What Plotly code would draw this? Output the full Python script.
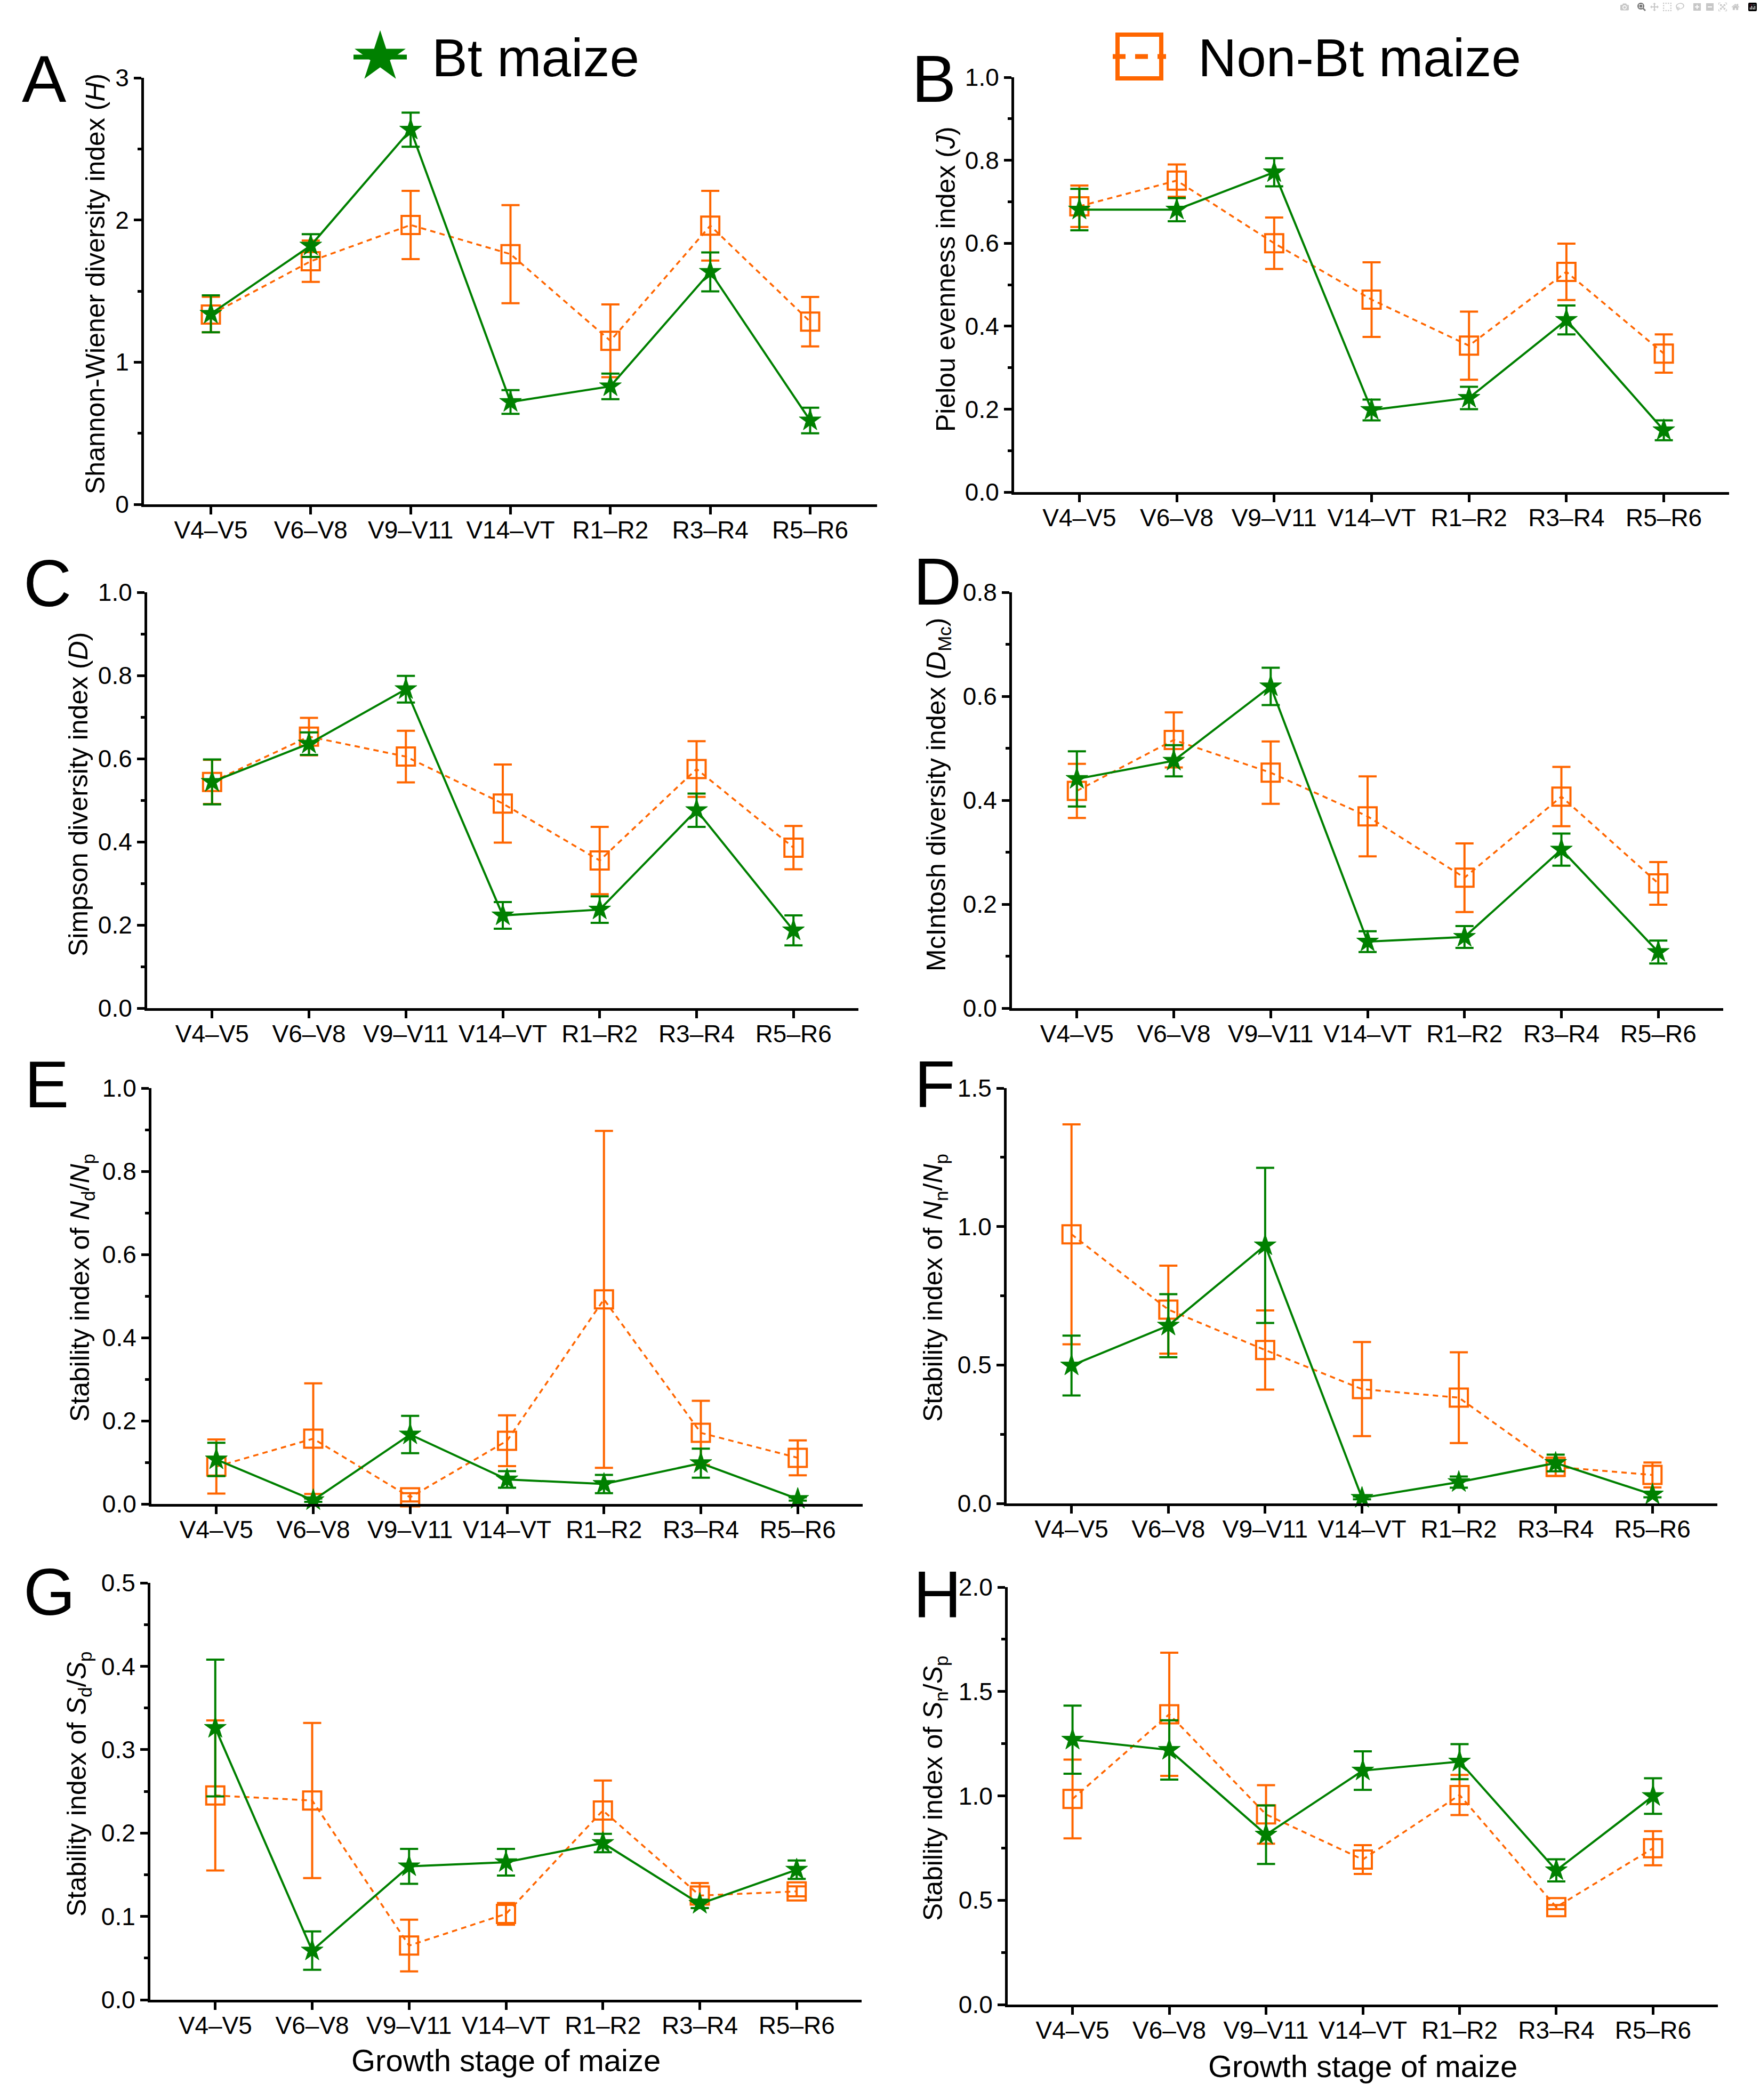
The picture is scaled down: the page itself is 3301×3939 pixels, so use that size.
import plotly.graph_objects as go

# ---------------- data ----------------
categories = ["V4–V5", "V6–V8", "V9–V11", "V14–VT", "R1–R2", "R3–R4", "R5–R6"]

shannon_bt = [1.34, 1.82, 2.635, 0.72, 0.83, 1.635, 0.59]
shannon_bt_se = [0.13, 0.08, 0.12, 0.083, 0.09, 0.137, 0.09]
shannon_non = [1.335, 1.71, 1.965, 1.76, 1.15, 1.96, 1.285]
shannon_non_se = [0.125, 0.145, 0.24, 0.345, 0.256, 0.245, 0.174]

pielou_bt = [0.681, 0.681, 0.771, 0.198, 0.227, 0.415, 0.149]
pielou_bt_se = [0.05, 0.028, 0.034, 0.025, 0.027, 0.035, 0.024]
pielou_non = [0.689, 0.751, 0.600, 0.464, 0.353, 0.531, 0.334]
pielou_non_se = [0.05, 0.039, 0.062, 0.09, 0.082, 0.068, 0.046]

simpson_bt = [0.544, 0.636, 0.767, 0.223, 0.237, 0.476, 0.187]
simpson_bt_se = [0.054, 0.027, 0.032, 0.032, 0.032, 0.04, 0.036]
simpson_non = [0.544, 0.653, 0.605, 0.492, 0.355, 0.575, 0.386]
simpson_non_se = [0.053, 0.045, 0.062, 0.094, 0.081, 0.067, 0.052]

mcintosh_bt = [0.441, 0.476, 0.619, 0.128, 0.137, 0.305, 0.108]
mcintosh_bt_se = [0.053, 0.03, 0.036, 0.02, 0.021, 0.031, 0.022]
mcintosh_non = [0.418, 0.516, 0.453, 0.369, 0.251, 0.407, 0.240]
mcintosh_non_se = [0.052, 0.053, 0.06, 0.077, 0.066, 0.057, 0.041]

nd_np_bt = [0.107, 0.009, 0.167, 0.059, 0.048, 0.098, 0.012]
nd_np_bt_se = [0.04, 0.004, 0.045, 0.02, 0.022, 0.035, 0.004]
nd_np_non = [0.090, 0.157, 0.016, 0.152, 0.492, 0.171, 0.111]
nd_np_non_se = [0.065, 0.133, 0.01, 0.061, 0.405, 0.077, 0.042]

nn_np_bt = [0.498, 0.642, 0.932, 0.020, 0.077, 0.146, 0.032]
nn_np_bt_se = [0.108, 0.114, 0.28, 0.005, 0.02, 0.03, 0.01]
nn_np_non = [0.972, 0.700, 0.554, 0.413, 0.382, 0.132, 0.103]
nn_np_non_se = [0.397, 0.159, 0.143, 0.17, 0.164, 0.033, 0.045]

sd_sp_bt = [0.326, 0.059, 0.160, 0.165, 0.188, 0.115, 0.156]
sd_sp_bt_se = [0.082, 0.023, 0.021, 0.016, 0.011, 0.005, 0.011]
sd_sp_non = [0.245, 0.239, 0.065, 0.103, 0.227, 0.125, 0.130]
sd_sp_non_se = [0.09, 0.093, 0.031, 0.013, 0.036, 0.015, 0.006]

sn_sp_bt = [1.269, 1.220, 0.814, 1.121, 1.164, 0.643, 0.999]
sn_sp_bt_se = [0.163, 0.142, 0.14, 0.092, 0.084, 0.053, 0.085]
sn_sp_non = [0.985, 1.391, 0.911, 0.695, 1.004, 0.467, 0.749]
sn_sp_non_se = [0.189, 0.295, 0.14, 0.069, 0.096, 0.01, 0.082]

series_names = ["Bt maize", "Non-Bt maize"]
x_title = "Growth stage of maize"

# ---------------- styling / layout ----------------
W, H = 3301, 3939
GREEN = "#008000"
ORANGE = "#FF6600"
FONT = "Liberation Sans, Arial, Helvetica, sans-serif"


def fx(p):
    return p / W


def fy(p):
    return 1 - p / H


panels = [
    dict(letter="A", lx=83, ly=148, x0=270, x1=1645, yt=146, yb=946, yr=[0, 3], dt=1, mn=0.5, fmt=".0f",
         tx=179, ty=533, title="Shannon-Wiener diversity index (<i>H</i>)",
         bt=shannon_bt, bts=shannon_bt_se, nb=shannon_non, nbs=shannon_non_se),
    dict(letter="B", lx=1751, ly=148, x0=1902, x1=3243, yt=145, yb=923, yr=[0, 1], dt=0.2, mn=0.1, fmt=".1f",
         tx=1774, ty=524, title="Pielou evenness index (<i>J</i>)",
         bt=pielou_bt, bts=pielou_bt_se, nb=pielou_non, nbs=pielou_non_se),
    dict(letter="C", lx=89, ly=1094, x0=276, x1=1610, yt=1111, yb=1891, yr=[0, 1], dt=0.2, mn=0.1, fmt=".1f",
         tx=147, ty=1490, title="Simpson diversity index (<i>D</i>)",
         bt=simpson_bt, bts=simpson_bt_se, nb=simpson_non, nbs=simpson_non_se),
    dict(letter="D", lx=1758, ly=1090, x0=1898, x1=3232, yt=1111, yb=1891, yr=[0, 0.8], dt=0.2, mn=0.1, fmt=".1f",
         tx=1760, ty=1490, title="McIntosh diversity index (<i>D</i><sub>Mc</sub>)",
         bt=mcintosh_bt, bts=mcintosh_bt_se, nb=mcintosh_non, nbs=mcintosh_non_se),
    dict(letter="E", lx=87, ly=2034, x0=284, x1=1618, yt=2041, yb=2821, yr=[0, 1], dt=0.2, mn=0.1, fmt=".1f",
         tx=153, ty=2416, title="Stability index of <i>N</i><sub>d</sub>/<i>N</i><sub>p</sub>",
         bt=nd_np_bt, bts=nd_np_bt_se, nb=nd_np_non, nbs=nd_np_non_se),
    dict(letter="F", lx=1753, ly=2034, x0=1888, x1=3221, yt=2041, yb=2820, yr=[0, 1.5], dt=0.5, mn=0.25, fmt=".1f",
         tx=1753, ty=2416, title="Stability index of <i>N</i><sub>n</sub>/<i>N</i><sub>p</sub>",
         bt=nn_np_bt, bts=nn_np_bt_se, nb=nn_np_non, nbs=nn_np_non_se),
    dict(letter="G", lx=92, ly=2985, x0=282, x1=1616, yt=2969, yb=3751, yr=[0, 0.5], dt=0.1, mn=0.05, fmt=".1f",
         tx=147, ty=3346, title="Stability index of <i>S</i><sub>d</sub>/<i>S</i><sub>p</sub>",
         bt=sd_sp_bt, bts=sd_sp_bt_se, nb=sd_sp_non, nbs=sd_sp_non_se, xt=3864),
    dict(letter="H", lx=1758, ly=2990, x0=1890, x1=3222, yt=2977, yb=3760, yr=[0, 2], dt=0.5, mn=0.25, fmt=".1f",
         tx=1753, ty=3354, title="Stability index of <i>S</i><sub>n</sub>/<i>S</i><sub>p</sub>",
         bt=sn_sp_bt, bts=sn_sp_bt_se, nb=sn_sp_non, nbs=sn_sp_non_se, xt=3875),
]

fig = go.Figure()
layout = dict(
    template="none",
    width=W, height=H, autosize=False,
    margin=dict(l=0, r=0, t=0, b=0, pad=0, autoexpand=False),
    paper_bgcolor="white", plot_bgcolor="white",
    showlegend=False,
    font=dict(family=FONT, color="black", size=46),
)
annotations = []

for i, p in enumerate(panels):
    n = i + 1
    xa = "x" if n == 1 else f"x{n}"
    ya = "y" if n == 1 else f"y{n}"
    xk = "xaxis" if n == 1 else f"xaxis{n}"
    yk = "yaxis" if n == 1 else f"yaxis{n}"

    # Non-Bt (orange, dashed, open squares)
    fig.add_trace(go.Scatter(
        x=categories, y=p["nb"], xaxis=xa, yaxis=ya, mode="lines+markers", name=series_names[1],
        line=dict(color=ORANGE, width=3.5, dash="10px,8px"),
        marker=dict(symbol="square-open", size=34, color=ORANGE, line=dict(width=4, color=ORANGE)),
        error_y=dict(type="data", array=p["nbs"], visible=True, color=ORANGE, thickness=4, width=17),
        cliponaxis=False,
    ))
    # Bt (green, solid, stars)
    fig.add_trace(go.Scatter(
        x=categories, y=p["bt"], xaxis=xa, yaxis=ya, mode="lines+markers", name=series_names[0],
        line=dict(color=GREEN, width=4),
        marker=dict(symbol="star", size=31, color=GREEN, line=dict(width=1, color=GREEN)),
        error_y=dict(type="data", array=p["bts"], visible=True, color=GREEN, thickness=4, width=17),
        cliponaxis=False,
    ))

    layout[xk] = dict(
        domain=[fx(p["x0"]), fx(p["x1"])], anchor=ya, type="category", automargin=False,
        categoryorder="array", categoryarray=categories,
        range=[-0.67, 6.67], showline=True, linecolor="black", linewidth=5,
        ticks="outside", ticklen=14, tickwidth=5, tickcolor="black", ticklabelstandoff=-10,
        showgrid=False, zeroline=False, tickfont=dict(size=46, family=FONT, color="black"),
    )
    layout[yk] = dict(
        domain=[fy(p["yb"]), fy(p["yt"])], anchor=xa, range=p["yr"], automargin=False,
        dtick=p["dt"], tick0=0, tickformat=p["fmt"],
        showline=True, linecolor="black", linewidth=5,
        ticks="outside", ticklen=14, tickwidth=5, tickcolor="black",
        minor=dict(dtick=p["mn"], ticks="outside", ticklen=7, tickwidth=5, tickcolor="black", showgrid=False),
        showgrid=False, zeroline=False, tickfont=dict(size=46, family=FONT, color="black"),
    )

    annotations.append(dict(
        text=p["letter"], x=fx(p["lx"]), y=fy(p["ly"]), xref="paper", yref="paper",
        xanchor="center", yanchor="middle", showarrow=False,
        font=dict(size=125, family=FONT, color="black"),
    ))
    annotations.append(dict(
        text=p["title"], x=fx(p["tx"]), y=fy(p["ty"]), xref="paper", yref="paper",
        xanchor="center", yanchor="middle", showarrow=False, textangle=-90,
        font=dict(size=50, family=FONT, color="black"),
    ))
    if "xt" in p:
        annotations.append(dict(
            text=x_title, x=fx((p["x0"] + p["x1"]) / 2), y=fy(p["xt"]), xref="paper", yref="paper",
            xanchor="center", yanchor="middle", showarrow=False,
            font=dict(size=58, family=FONT, color="black"),
        ))

# ---------------- legend keys (drawn on small hidden axes) ----------------
key_x = [0, 0.5, 1]
key_y = [0, 0, 0]
hidden = dict(visible=False, showgrid=False, zeroline=False, fixedrange=True, automargin=False)

# Bt key
fig.add_trace(go.Scatter(x=[key_x[0], key_x[2]], y=[key_y[0], key_y[2]], xaxis="x9", yaxis="y9",
                         mode="lines", line=dict(color=GREEN, width=9), hoverinfo="skip"))
fig.add_trace(go.Scatter(x=[key_x[1]], y=[key_y[1]], xaxis="x9", yaxis="y9", mode="markers",
                         marker=dict(symbol="star", size=72, color=GREEN, line=dict(width=0)), hoverinfo="skip"))
layout["xaxis9"] = dict(domain=[fx(663), fx(763)], range=[0, 1], anchor="y9", **hidden)
layout["yaxis9"] = dict(domain=[fy(157), fy(57)], range=[-1, 1], anchor="x9", **hidden)

# Non-Bt key
fig.add_trace(go.Scatter(x=[key_x[0], key_x[2]], y=[key_y[0], key_y[2]], xaxis="x10", yaxis="y10",
                         mode="lines", line=dict(color=ORANGE, width=9, dash="24px,18px"), hoverinfo="skip"))
fig.add_trace(go.Scatter(x=[key_x[1]], y=[key_y[1]], xaxis="x10", yaxis="y10", mode="markers",
                         marker=dict(symbol="square-open", size=82, color=ORANGE, line=dict(width=8, color=ORANGE)),
                         hoverinfo="skip"))
layout["xaxis10"] = dict(domain=[fx(2087), fx(2187)], range=[0, 1], anchor="y10", **hidden)
layout["yaxis10"] = dict(domain=[fy(156), fy(56)], range=[-1, 1], anchor="x10", **hidden)

annotations.append(dict(text=series_names[0], x=fx(808), y=fy(108), xref="paper", yref="paper",
                        xanchor="left", yanchor="middle", showarrow=False,
                        font=dict(size=100, family=FONT, color="black")))
annotations.append(dict(text=series_names[1], x=fx(2245), y=fy(108), xref="paper", yref="paper",
                        xanchor="left", yanchor="middle", showarrow=False,
                        font=dict(size=100, family=FONT, color="black")))

layout["annotations"] = annotations
fig.update_layout(**layout)

fig.write_html("out.html", post_script="document.body.style.margin='0px';")
